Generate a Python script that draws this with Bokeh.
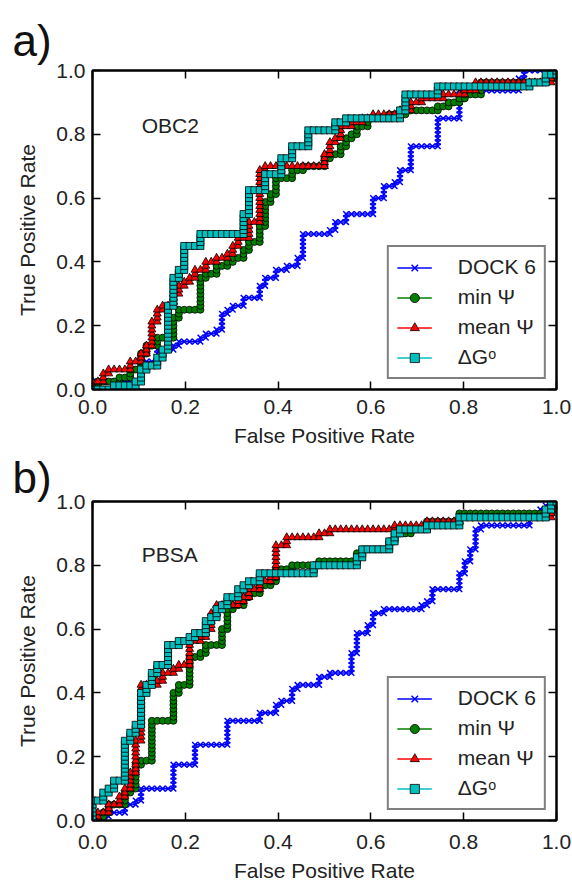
import numpy as np
from bokeh.plotting import figure
from bokeh.models import (Range1d, LinearAxis, FixedTicker, NumeralTickFormatter,
                          Legend, LegendItem, Label)
from bokeh.layouts import column
from bokeh.embed import file_html
from bokeh.resources import INLINE

# Ranked screening set sizes (decoys -> FPR steps, actives -> TPR steps)
N_DECOYS = 86
N_ACTIVES = 80

TICKS = [0.0, 0.2, 0.4, 0.6, 0.8, 1.0]
SERIES = ["DOCK 6", "min Ψ", "mean Ψ", "ΔGᵒ"]

# ROC step corners: from the previous corner the curve runs across to fpr, then up to tpr.
# ---- OBC2 ----
obc2_dock6_fpr = [0.0, 0.08, 0.11, 0.14, 0.17, 0.19, 0.23, 0.245, 0.265, 0.275, 0.29, 0.305, 0.32, 0.36,
                  0.375, 0.40, 0.42, 0.44, 0.45, 0.455, 0.51, 0.525, 0.55, 0.61, 0.625, 0.65, 0.665, 0.685,
                  0.69, 0.75, 0.795, 0.92, 0.935, 1.0]
obc2_dock6_tpr = [0.03, 0.06, 0.09, 0.12, 0.14, 0.155, 0.165, 0.175, 0.19, 0.235, 0.25, 0.26, 0.29, 0.325,
                  0.345, 0.37, 0.39, 0.415, 0.445, 0.49, 0.505, 0.53, 0.555, 0.605, 0.635, 0.65, 0.69, 0.71,
                  0.76, 0.855, 0.94, 0.98, 1.0, 1.0]

obc2_min_fpr = [0.01, 0.03, 0.06, 0.08, 0.10, 0.11, 0.12, 0.145, 0.17, 0.175, 0.19, 0.23, 0.235, 0.245,
                0.265, 0.29, 0.305, 0.32, 0.34, 0.355, 0.365, 0.37, 0.38, 0.39, 0.40, 0.435, 0.455, 0.50,
                0.515, 0.535, 0.545, 0.555, 0.57, 0.59, 0.645, 0.67, 0.685, 0.75, 0.77, 0.795, 0.80, 0.835,
                0.98, 1.0]
obc2_min_tpr = [0.02, 0.03, 0.04, 0.065, 0.09, 0.11, 0.135, 0.165, 0.19, 0.23, 0.25, 0.26, 0.345, 0.365,
                0.385, 0.395, 0.415, 0.44, 0.46, 0.49, 0.51, 0.585, 0.615, 0.65, 0.665, 0.685, 0.70, 0.72,
                0.735, 0.76, 0.785, 0.805, 0.83, 0.845, 0.86, 0.87, 0.88, 0.885, 0.895, 0.91, 0.93, 0.96,
                0.97, 1.0]

obc2_mean_fpr = [0.0, 0.02, 0.03, 0.08, 0.10, 0.115, 0.125, 0.135, 0.145, 0.155, 0.175, 0.185, 0.195, 0.21,
                 0.22, 0.245, 0.27, 0.29, 0.30, 0.31, 0.34, 0.355, 0.36, 0.365, 0.375, 0.50, 0.51, 0.525,
                 0.54, 0.555, 0.58, 0.605, 0.66, 0.685, 0.705, 0.76, 0.80, 0.83, 0.99, 1.0]
obc2_mean_tpr = [0.02, 0.045, 0.06, 0.09, 0.115, 0.135, 0.21, 0.22, 0.245, 0.26, 0.30, 0.32, 0.34, 0.355,
                 0.38, 0.405, 0.415, 0.425, 0.45, 0.47, 0.53, 0.595, 0.635, 0.685, 0.70, 0.74, 0.77, 0.79,
                 0.82, 0.84, 0.855, 0.865, 0.88, 0.895, 0.91, 0.92, 0.935, 0.965, 0.985, 1.0]

obc2_dg_fpr = [0.05, 0.09, 0.10, 0.11, 0.12, 0.135, 0.15, 0.16, 0.165, 0.17, 0.185, 0.20, 0.235, 0.32,
               0.335, 0.37, 0.405, 0.435, 0.46, 0.525, 0.55, 0.66, 0.675, 0.68, 0.75, 0.945, 0.98, 1.0]
obc2_dg_tpr = [0.01, 0.02, 0.035, 0.06, 0.08, 0.10, 0.125, 0.22, 0.26, 0.355, 0.37, 0.45, 0.49, 0.555,
               0.62, 0.68, 0.73, 0.76, 0.815, 0.835, 0.845, 0.875, 0.90, 0.93, 0.945, 0.965, 0.985, 1.0]

# ---- PBSA ----
pbsa_dock6_fpr = [0.02, 0.04, 0.065, 0.09, 0.10, 0.17, 0.18, 0.225, 0.29, 0.36, 0.395, 0.41, 0.425, 0.445,
                  0.47, 0.49, 0.51, 0.555, 0.565, 0.575, 0.59, 0.61, 0.625, 0.705, 0.72, 0.735, 0.79, 0.80,
                  0.815, 0.825, 0.835, 0.94, 0.965, 0.98, 1.0]
pbsa_dock6_tpr = [0.01, 0.025, 0.055, 0.065, 0.10, 0.12, 0.17, 0.24, 0.315, 0.335, 0.36, 0.375, 0.41, 0.425,
                  0.43, 0.445, 0.46, 0.53, 0.555, 0.585, 0.615, 0.645, 0.66, 0.68, 0.69, 0.725, 0.775, 0.815,
                  0.85, 0.91, 0.93, 0.955, 0.97, 0.99, 1.0]

pbsa_min_fpr = [0.01, 0.02, 0.04, 0.065, 0.08, 0.09, 0.10, 0.125, 0.13, 0.17, 0.175, 0.19, 0.205, 0.215,
                0.23, 0.245, 0.275, 0.29, 0.305, 0.32, 0.34, 0.355, 0.385, 0.40, 0.425, 0.445, 0.49, 0.575,
                0.585, 0.635, 0.65, 0.685, 0.72, 0.79, 0.99, 1.0]
pbsa_min_tpr = [0.015, 0.025, 0.045, 0.085, 0.10, 0.17, 0.19, 0.23, 0.315, 0.345, 0.40, 0.42, 0.48, 0.51,
                0.53, 0.545, 0.60, 0.66, 0.68, 0.70, 0.71, 0.735, 0.755, 0.785, 0.795, 0.805, 0.815, 0.84,
                0.855, 0.875, 0.895, 0.915, 0.935, 0.96, 0.98, 1.0]

pbsa_mean_fpr = [0.01, 0.02, 0.035, 0.06, 0.075, 0.085, 0.095, 0.10, 0.11, 0.14, 0.15, 0.17, 0.185, 0.205,
                 0.215, 0.23, 0.245, 0.255, 0.265, 0.275, 0.31, 0.325, 0.34, 0.36, 0.38, 0.39, 0.395, 0.40,
                 0.415, 0.49, 0.515, 0.655, 0.72, 0.785, 0.99, 1.0]
pbsa_mean_tpr = [0.02, 0.03, 0.045, 0.075, 0.095, 0.15, 0.25, 0.27, 0.42, 0.435, 0.46, 0.48, 0.49, 0.545,
                 0.565, 0.575, 0.605, 0.645, 0.67, 0.68, 0.69, 0.70, 0.73, 0.745, 0.765, 0.785, 0.835, 0.865,
                 0.885, 0.905, 0.915, 0.92, 0.935, 0.955, 0.97, 1.0]

pbsa_dg_fpr = [0.005, 0.02, 0.04, 0.05, 0.065, 0.07, 0.08, 0.095, 0.11, 0.12, 0.125, 0.14, 0.145, 0.16,
               0.165, 0.19, 0.205, 0.22, 0.24, 0.245, 0.26, 0.27, 0.28, 0.29, 0.305, 0.31, 0.325, 0.34,
               0.355, 0.44, 0.475, 0.565, 0.575, 0.585, 0.64, 0.655, 0.66, 0.72, 0.79, 0.98, 0.99, 1.0]
pbsa_dg_tpr = [0.065, 0.085, 0.10, 0.12, 0.14, 0.25, 0.275, 0.295, 0.40, 0.42, 0.46, 0.47, 0.49, 0.515,
               0.545, 0.565, 0.575, 0.585, 0.595, 0.62, 0.64, 0.66, 0.68, 0.695, 0.705, 0.725, 0.735, 0.755,
               0.77, 0.78, 0.795, 0.80, 0.82, 0.855, 0.875, 0.90, 0.915, 0.93, 0.955, 0.98, 0.995, 1.0]

FONT = "Liberation Sans"
STYLES = [
    dict(color="#0000ff", marker="x", size=8, fill="#0000ff", edge="#0000ff", edge_w=1.5),
    dict(color="#008000", marker="circle", size=7, fill="#008000", edge="black", edge_w=0.8),
    dict(color="#ff0000", marker="triangle", size=8, fill="#ff0000", edge="black", edge_w=0.8),
    dict(color="#00bfbf", marker="square", size=7, fill="#00bfbf", edge="black", edge_w=0.8),
]


def roc_points(fpr_corners, tpr_corners):
    """One ROC point per ranked compound, walking each step across then up."""
    fp = np.rint(np.asarray(fpr_corners) * N_DECOYS).astype(int)
    tp = np.rint(np.asarray(tpr_corners) * N_ACTIVES).astype(int)
    xs, ys = [0], [0]
    cx = cy = 0
    for f, t in zip(fp, tp):
        while cx < f:
            cx += 1
            xs.append(cx)
            ys.append(cy)
        while cy < t:
            cy += 1
            xs.append(cx)
            ys.append(cy)
    return np.array(xs) / N_DECOYS, np.array(ys) / N_ACTIVES


def make_panel(letter, solvent, curves, height, top, bottom, solvent_y, letter_standoff,
               tick_standoff, label_standoff):
    p = figure(width=572, height=height, x_range=Range1d(0, 1), y_range=Range1d(0, 1),
               output_backend="svg", toolbar_location=None, title=letter,
               min_border_left=92, min_border_right=16, min_border_top=top, min_border_bottom=bottom)
    # panel letter, set as a left-aligned title that starts near the page edge
    p.title.text_font = FONT
    p.title.text_font_size = "44px"
    p.title.text_font_style = "normal"
    p.title.text_color = "#111111"
    p.title.align = "left"
    p.title.offset = -80
    p.title.standoff = letter_standoff

    p.grid.visible = False
    p.outline_line_color = "black"
    p.outline_line_width = 2
    p.background_fill_color = "white"
    p.border_fill_color = "white"

    for ax in (p.xaxis[0], p.yaxis[0]):
        ax.ticker = FixedTicker(ticks=TICKS)
        ax.formatter = NumeralTickFormatter(format="0.0")
        ax.major_tick_in = 8
        ax.major_tick_out = 0
        ax.minor_tick_in = 0
        ax.minor_tick_out = 0
        ax.major_tick_line_width = 1.5
        ax.axis_line_width = 2
        ax.major_label_text_font = FONT
        ax.major_label_text_font_size = "21px"
        ax.major_label_text_color = "#222222"
        ax.axis_label_text_font = FONT
        ax.axis_label_text_font_size = "21px"
        ax.axis_label_text_font_style = "normal"
        ax.axis_label_text_color = "#222222"
    p.xaxis.axis_label = "False Positive Rate"
    p.yaxis.axis_label = "True Positive Rate"
    p.xaxis.major_label_standoff = tick_standoff
    p.xaxis.axis_label_standoff = label_standoff
    p.yaxis.major_label_standoff = 7
    p.yaxis.axis_label_standoff = 14

    # tick marks (no labels) on the top and right edges of the box
    for loc in ("right", "above"):
        ax = LinearAxis(ticker=FixedTicker(ticks=TICKS), major_label_text_font_size="0px",
                        major_label_text_color=None,
                        major_tick_in=8, major_tick_out=0, minor_tick_in=0, minor_tick_out=0,
                        major_tick_line_width=1.5, axis_line_width=2, major_label_standoff=0)
        p.add_layout(ax, loc)

    items = []
    for name, (fx, ty), st in zip(SERIES, curves, STYLES):
        x, y = roc_points(fx, ty)
        ln = p.line(x, y, line_color=st["color"], line_width=1.6)
        sc = p.scatter(x, y, marker=st["marker"], size=st["size"], fill_color=st["fill"],
                       line_color=st["edge"], line_width=st["edge_w"])
        items.append(LegendItem(label=name, renderers=[ln, sc]))

    legend = Legend(items=items, location="bottom_right", margin=10,
                    border_line_color="black", border_line_width=2,
                    label_text_font=FONT, label_text_font_size="21px", label_text_color="#222222",
                    glyph_width=35, glyph_height=23, label_height=23, spacing=6,
                    padding=8, label_standoff=26, background_fill_alpha=1.0)
    p.add_layout(legend)

    p.add_layout(Label(x=0.106, y=solvent_y, text=solvent, text_font=FONT,
                       text_font_size="21px", text_color="#222222"))
    return p


pa = make_panel("a)", "OBC2",
                [(obc2_dock6_fpr, obc2_dock6_tpr), (obc2_min_fpr, obc2_min_tpr),
                 (obc2_mean_fpr, obc2_mean_tpr), (obc2_dg_fpr, obc2_dg_tpr)],
                height=449, top=70, bottom=59, solvent_y=0.79, letter_standoff=12,
                tick_standoff=10, label_standoff=7)
pb = make_panel("b)", "PBSA",
                [(pbsa_dock6_fpr, pbsa_dock6_tpr), (pbsa_min_fpr, pbsa_min_tpr),
                 (pbsa_mean_fpr, pbsa_mean_tpr), (pbsa_dg_fpr, pbsa_dg_tpr)],
                height=435, top=52, bottom=63, solvent_y=0.797, letter_standoff=0,
                tick_standoff=14, label_standoff=7)

layout = column(pa, pb, spacing=0)
open("out.html", "w").write(file_html(layout, INLINE))
